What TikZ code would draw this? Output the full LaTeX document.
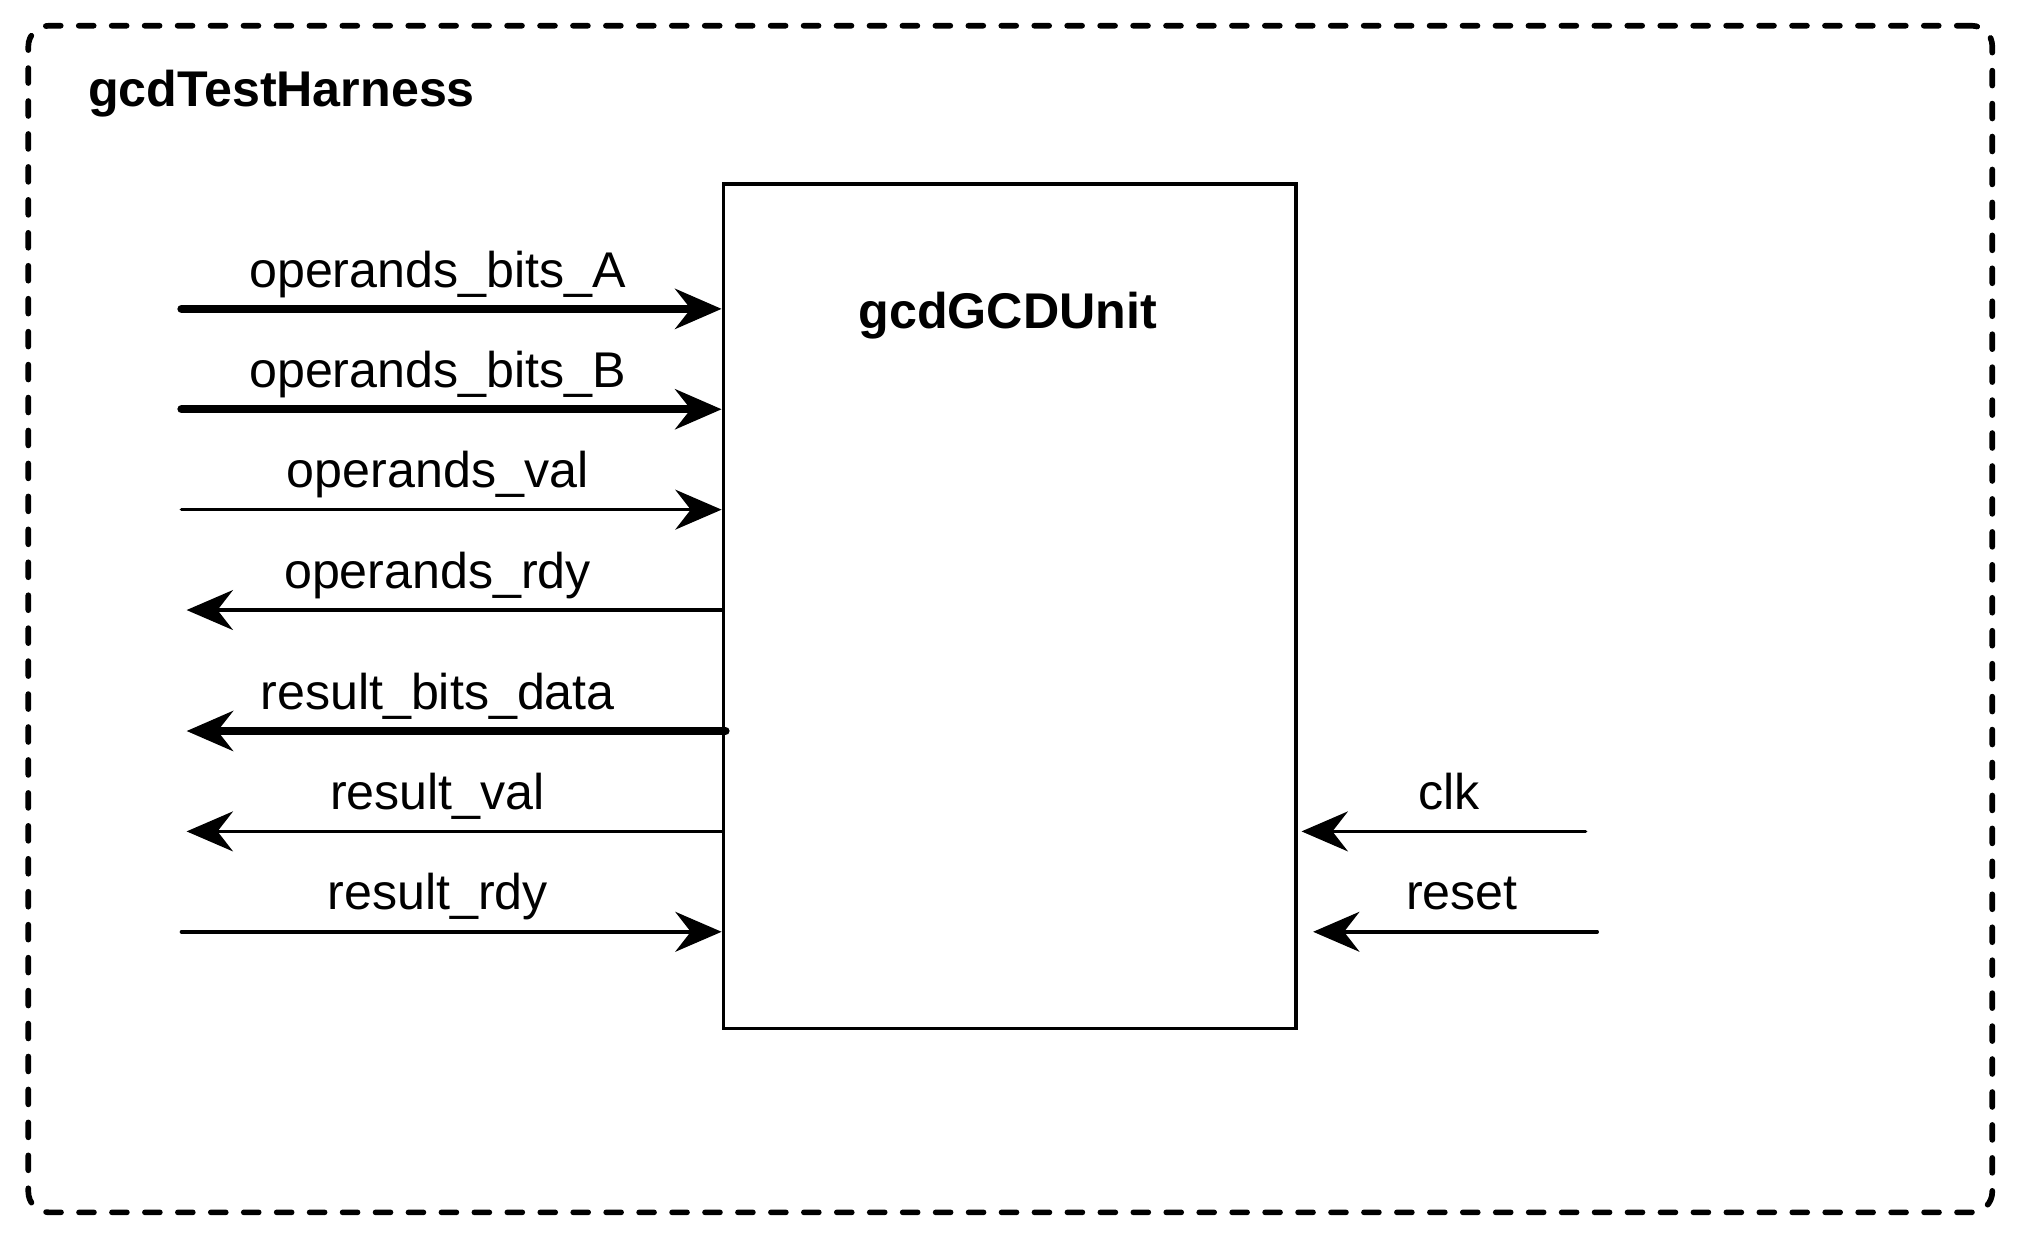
\documentclass[tikz,border=0pt]{standalone}
\usepackage{fontspec}
\setmainfont{Liberation Sans}
\usetikzlibrary{arrows.meta}
\begin{document}
\begin{tikzpicture}[x=0.5pt,y=-0.5pt,
  sig/.style={line width=1.4pt,line cap=round,-{Stealth[length=18pt,width=15.5pt,inset=6pt]}},
  bus/.style={sig,line width=3.2pt},
  lbl/.style={anchor=base,inner sep=0pt,font=\fontsize{19.5pt}{22pt}\selectfont},
  title/.style={lbl,font=\fontsize{19.5pt}{22pt}\selectfont\bfseries}]
\useasboundingbox (0,0) rectangle (1568,958);
% outer harness
\node[draw,dashed,line width=2.2pt,line cap=round,dash pattern=on 5.8pt off 7pt,
  rounded corners=8pt,minimum width=763pt,minimum height=461pt,inner sep=0pt]
  (harness) at (785,481) {};
\node[title,anchor=base west] (htitle) at (68,83) {gcdTestHarness};
% unit box
\node[draw,line width=1.3pt,minimum width=222.5pt,minimum height=328pt,inner sep=0pt]
  (gcd) at (784.5,471) {};
\node[title] (utitle) at (783,255) {gcdGCDUnit};
% left side
\coordinate (inA) at (141,240);
\coordinate (inB) at (141,318);
\coordinate (inV) at (141,396);
\coordinate (oR) at (145,474);
\coordinate (oD) at (145,568);
\coordinate (oV) at (145,646);
\coordinate (inR) at (141,724);
\draw[bus] (inA) -- (inA -| gcd.west);
\draw[bus] (inB) -- (inB -| gcd.west);
\draw[sig] (inV) -- (inV -| gcd.west);
\draw[sig] (oR -| gcd.west) -- (oR);
\draw[bus] ([xshift=1.5pt]oD -| gcd.west) -- (oD);
\draw[sig] (oV -| gcd.west) -- (oV);
\draw[sig] (inR) -- (inR -| gcd.west);
\node[lbl] (lA) at (340,223) {operands\_bits\_A};
\node[lbl] (lB) at (340,301) {operands\_bits\_B};
\node[lbl] (lV) at (340,379) {operands\_val};
\node[lbl] (lR) at (340,457) {operands\_rdy};
\node[lbl] (lD) at (340,551) {result\_bits\_data};
\node[lbl] (lRV) at (340,629) {result\_val};
\node[lbl] (lRR) at (340,707) {result\_rdy};
% right side
\coordinate (clk) at (1232,646);
\coordinate (rst) at (1241,724);
\draw[sig] (clk) -- ([xshift=1.5pt]clk -| gcd.east);
\draw[sig] (rst) -- ([xshift=6pt]rst -| gcd.east);
\node[lbl] (lclk) at (1126,629) {clk};
\node[lbl] (lrst) at (1136,707) {reset};
\end{tikzpicture}
\end{document}
